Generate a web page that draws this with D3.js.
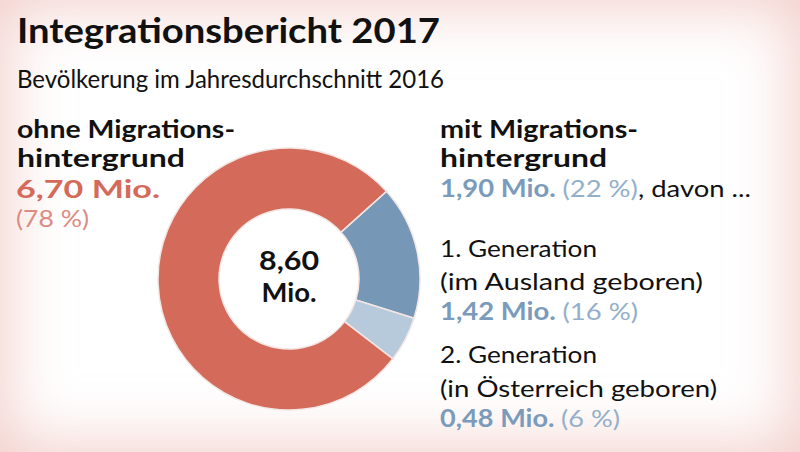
<!DOCTYPE html>
<html><head><meta charset="utf-8">
<script src="https://cdn.jsdelivr.net/npm/d3@7"></script>
<style>
html,body{margin:0;padding:0;background:#fff;}
#wrap{position:relative;width:800px;height:452px;overflow:hidden;background:#fff;}
#bg{position:absolute;left:0;top:0;width:800px;height:452px;box-shadow:inset 0 0 60px 8px rgba(232,170,160,0.55);}
svg{position:absolute;left:0;top:0;}
</style></head>
<body><div id="wrap"><div id="bg"></div><svg id="chart" width="800" height="452"></svg></div>
<script>
// ---- data ----
const categories = ["1. Generation", "2. Generation", "ohne Migrationshintergrund"];
const values = [1.42, 0.48, 6.70];           // Mio.
const shares = [16, 6, 78];                   // %
const totalLabel = ["8,60", "Mio."];
const title = "Integrationsbericht 2017";
const subtitle = "Bevölkerung im Jahresdurchschnitt 2016";
const leftHead = ["ohne Migrations-", "hintergrund"];
const rightHead = ["mit Migrations-", "hintergrund"];
const mitValue = "1,90 Mio.", mitShare = "(22 %)";
const genLines = [["1. Generation", "(im Ausland geboren)"], ["2. Generation", "(in Österreich geboren)"]];
const valueLabels = ["1,42 Mio.", "0,48 Mio.", "6,70 Mio."];
const shareLabels = ["(16 %)", "(6 %)", "(78 %)"];

const colors = ["#7797b6", "#b6cadc", "#d46a5a"];
const font = "Lato, 'Open Sans', sans-serif";
const svg = d3.select("#chart");

function line(x, y, size, weight, width) {
  const t = svg.append("text").attr("x", x).attr("y", y)
    .style("font-family", font).style("font-size", size + "px").style("font-weight", weight).attr("fill", "#111");
  if (width) t.attr("textLength", width).attr("lengthAdjust", "spacingAndGlyphs");
  return t;
}

// title
line(17, 43, 35, 700, 423).text(title);
line(17, 88, 25, 400, 427).text(subtitle);

// left block
line(17, 138, 24, 700, 218).text(leftHead[0]);
line(17, 167, 24, 700, 168).text(leftHead[1]);
line(16, 198, 24, 700, 144).attr("fill", colors[2]).text(valueLabels[2]);
line(16, 227, 24, 400, 73).attr("fill", "#dc8c82").text(shareLabels[2]);

// right block
const rx = 440;
line(rx, 138, 24, 700, 198).text(rightHead[0]);
line(rx, 167, 24, 700, 167).text(rightHead[1]);
const t1 = line(rx, 197, 24, 700, 311);
t1.append("tspan").attr("fill", "#7a9bbc").text(mitValue + " ");
t1.append("tspan").attr("fill", "#94afca").style("font-weight", 400).text(mitShare);
t1.append("tspan").attr("fill", "#111").style("font-weight", 400).text(", davon ...");

const gy = [[257, 290, 320], [363, 397, 427]];
const genW = [[157, 263, 198], [157, 277, 180]];
genLines.forEach((g, i) => {
  line(rx, gy[i][0], 24, 400, genW[i][0]).text(g[0]);
  line(rx, gy[i][1], 24, 400, genW[i][1]).text(g[1]);
  const t = line(rx, gy[i][2], 24, 700, genW[i][2]);
  t.append("tspan").attr("fill", "#7a9bbc").text(valueLabels[i] + " ");
  t.append("tspan").attr("fill", "#94afca").style("font-weight", 400).text(shareLabels[i]);
});

// donut
const cx = 289, cy = 279, rOuter = 131, rInner = 70;
const pie = d3.pie().sort(null).value(d => d)
  .startAngle(48 * Math.PI / 180).endAngle(48 * Math.PI / 180 + 2 * Math.PI);
const arc = d3.arc().innerRadius(rInner).outerRadius(rOuter);
const g = svg.append("g").attr("transform", `translate(${cx},${cy})`);
g.selectAll("path").data(pie(values)).join("path")
  .attr("d", arc).attr("fill", (d, i) => colors[i])
  .attr("stroke", "#f3e6e4").attr("stroke-width", 1.5);

g.append("text").attr("text-anchor", "middle").attr("y", -9)
  .style("font-family", font).style("font-size", "26px").style("font-weight", 700).attr("fill", "#111")
  .attr("textLength", 60).attr("lengthAdjust", "spacingAndGlyphs").text(totalLabel[0]);
g.append("text").attr("text-anchor", "middle").attr("y", 23)
  .style("font-family", font).style("font-size", "26px").style("font-weight", 700).attr("fill", "#111")
  .attr("textLength", 55).attr("lengthAdjust", "spacingAndGlyphs").text(totalLabel[1]);
</script></body></html>
